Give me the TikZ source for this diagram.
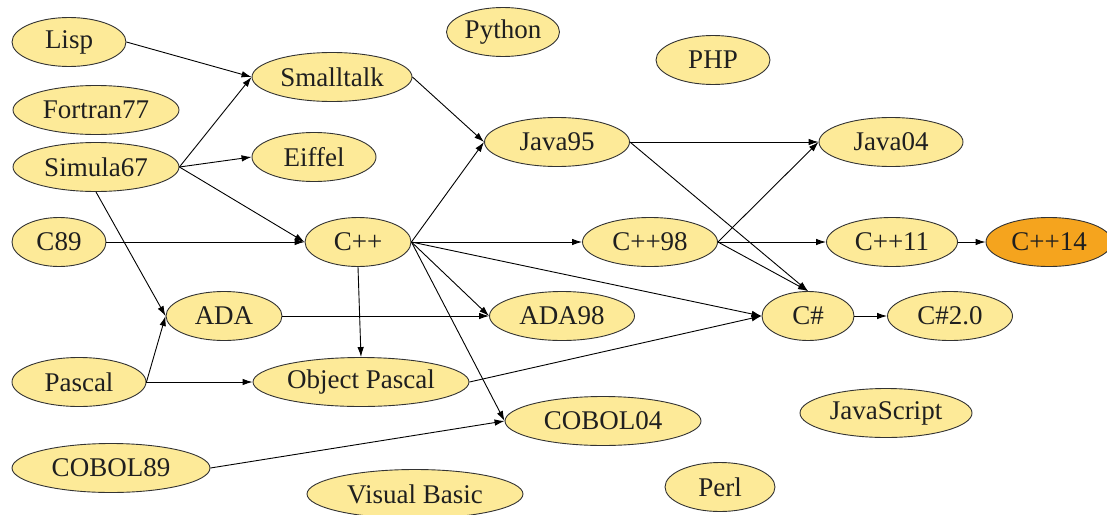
\documentclass[tikz,border=0pt]{standalone}
\usepackage{fontspec}
\setmainfont{Liberation Serif}
\usetikzlibrary{shapes.geometric,arrows.meta}
\definecolor{langfill}{HTML}{FDEA98}
\definecolor{newfill}{HTML}{F5A41E}
\begin{document}
\begin{tikzpicture}[x=1pt, y=-1pt, line width=0.9pt,
        every node/.style={font=\fontsize{27}{32}\selectfont, text=black!88},
        n/.style={ellipse, draw=black!80, fill=#1, minimum height=49pt, inner sep=0pt},
        n/.default=langfill,
        >={Latex[length=10pt,width=6.5pt]}]
        \useasboundingbox (0,0) rectangle (1107,514);

        \node[n, minimum width=114pt] (lisp) at (69,42) {Lisp};
        \node[n, minimum width=166pt] (fortran) at (96,110) {Fortran77};
        \node[n, minimum width=166pt] (simula) at (96,167) {Simula67};
        \node[n, minimum width=94pt] (c89) at (59,242) {C89};
        \node[n, minimum width=134pt] (pascal) at (79,382) {Pascal};
        \node[n, minimum width=198pt] (cobol89) at (111,468) {COBOL89};

        \node[n, minimum width=160pt] (smalltalk) at (332,77) {Smalltalk};
        \node[n, minimum width=124pt] (eiffel) at (314,157) {Eiffel};
        \node[n, minimum width=106pt] (cpp) at (358,242) {C++};
        \node[n, minimum width=116pt] (ada) at (224,316) {ADA};
        \node[n, minimum width=216pt] (objpascal) at (361,382) {Object Pascal};
        \node[n, minimum width=216pt] (vb) at (415,494) {Visual Basic};

        \node[n, minimum width=113pt] (python) at (503,32) {Python};
        \node[n, minimum width=145pt] (java95) at (557,142) {Java95};
        \node[n, minimum width=135pt] (cpp98) at (650,242) {C++98};
        \node[n, minimum width=145pt] (ada98) at (562,316) {ADA98};
        \node[n, minimum width=196pt] (cobol04) at (603,421) {COBOL04};
        \node[n, minimum width=114pt] (php) at (713,60) {PHP};
        \node[n, minimum width=110pt] (perl) at (720,487) {Perl};

        \node[n, minimum width=144pt] (java04) at (891,142) {Java04};
        \node[n, minimum width=131pt] (cpp11) at (892,242) {C++11};
        \node[n=newfill, minimum width=126pt] (cpp14) at (1049,242) {C++14};
        \node[n, minimum width=92pt] (cs) at (808,316) {C\#};
        \node[n, minimum width=125pt] (cs2) at (950,316) {C\#2.0};
        \node[n, minimum width=172pt] (js) at (886,413) {JavaScript};

        \draw (lisp.east) edge[->] (smalltalk.west);
        \draw (simula.east) edge[->] (smalltalk.west);
        \draw (simula.east) edge[->] (eiffel.west);
        \draw (simula.east) edge[->] (cpp.west);
        \draw (simula.south) edge[->] (ada.west);
        \draw (c89.east) edge[->] (cpp.west);
        \draw (pascal.east) edge[->] (ada.west);
        \draw (pascal.east) edge[->] (objpascal.west);
        \draw (cobol89.east) edge[->] (cobol04.west);
        \draw (smalltalk.east) edge[->] (java95.west);
        \draw (cpp.east) edge[->] (java95.west);
        \draw (cpp.east) edge[->] (cpp98.west);
        \draw (cpp.east) edge[->] (ada98.west);
        \draw (cpp.south) edge[->] (objpascal.north);
        \draw (cpp.east) edge[->] (cobol04.west);
        \draw (cpp.east) edge[->] (cs.west);
        \draw (ada.east) edge[->] (ada98.west);
        \draw (objpascal.east) edge[->] (cs.west);
        \draw (java95.east) edge[->] (java04.west);
        \draw (java95.east) edge[->] (cs.north);
        \draw (cpp98.east) edge[->] (java04.west);
        \draw (cpp98.east) edge[->] (cpp11.west);
        \draw (cpp98.east) edge[->] (cs.north);
        \draw (cpp11.east) edge[->] (cpp14.west);
        \draw (cs.east) edge[->] (cs2.west);
    \end{tikzpicture}
\end{document}
